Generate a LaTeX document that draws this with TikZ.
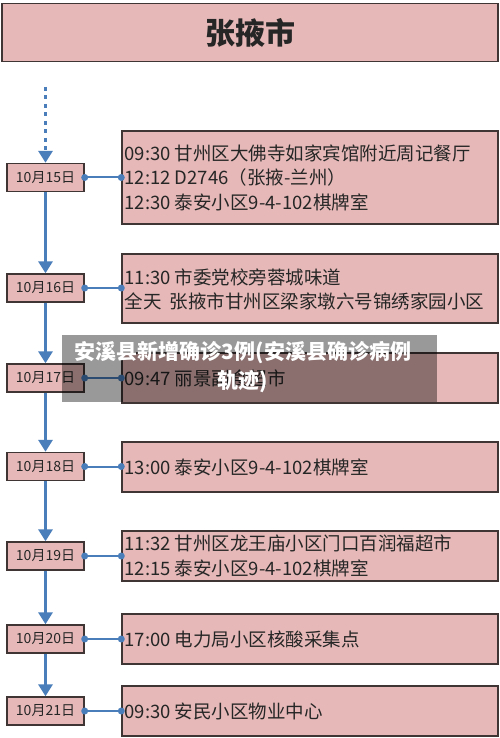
\documentclass[tikz,border=0pt]{standalone}
\usepackage{fontspec}
\setmainfont{Noto Sans CJK SC}
\usetikzlibrary{arrows.meta}
\definecolor{boxfill}{HTML}{E6B9B8}
\definecolor{boxline}{HTML}{3F3535}
\definecolor{flowblue}{HTML}{4A7EBB}
\definecolor{txt}{HTML}{262626}
\begin{document}
\begin{tikzpicture}[x=1pt,y=-1pt,
  titlebox/.style={draw=boxline,fill=boxfill,line width=1.5pt,minimum width=496pt,minimum height=58pt,inner sep=0pt,text=txt,font=\fontsize{30}{34}\selectfont\bfseries},
  datebox/.style={draw=boxline,fill=boxfill,line width=1.4pt,minimum width=77pt,minimum height=28pt,inner sep=0pt,text=txt,font=\fontsize{14}{16}\selectfont},
  infobox/.style={draw=boxline,fill=boxfill,line width=1.4pt,minimum width=376pt,inner sep=0pt},
  infotext/.style={anchor=west,align=left,inner sep=0pt,text=txt,font=\fontsize{18.5}{24.5}\selectfont},
  flow/.style={draw=flowblue,line width=3.5pt,-{Triangle[width=14pt,length=12pt]}},
  dashflow/.style={flow,dash pattern=on 4pt off 4.5pt},
  link/.style={draw=flowblue,line width=2pt},
  dot/.style={fill=flowblue}
]
\useasboundingbox (0,0) rectangle (500,738);
\fill[white] (0,0) rectangle (500,738);

\node[titlebox] (title) at (250,32.5) {张掖市};

% date boxes
\node[datebox] (d15) at (45.5,177.5) {10月15日};
\node[datebox] (d16) at (45.5,288) {10月16日};
\node[datebox] (d17) at (45.5,378) {10月17日};
\node[datebox] (d18) at (45.5,466.5) {10月18日};
\node[datebox] (d19) at (45.5,556) {10月19日};
\node[datebox] (d20) at (45.5,639) {10月20日};
\node[datebox] (d21) at (45.5,711) {10月21日};

% info boxes
\node[infobox,minimum height=93pt] (b15) at (310,177.5) {};
\node[infobox,minimum height=69pt] (b16) at (310,288.5) {};
\node[infobox,minimum height=50pt] (b17) at (310,378) {};
\node[infobox,minimum height=50pt] (b18) at (310,467) {};
\node[infobox,minimum height=50pt] (b19) at (310,556) {};
\node[infobox,minimum height=50pt] (b20) at (310,639) {};
\node[infobox,minimum height=50pt] (b21) at (310,711) {};

\node[infotext] (t15) at ([xshift=3pt]b15.west) {09:30 甘州区大佛寺如家宾馆附近周记餐厅\\12:12 D2746（张掖-兰州）\\12:30 泰安小区9-4-102棋牌室};
\node[infotext] (t16) at ([xshift=3pt,yshift=-1pt]b16.west) {11:30 市委党校旁蓉城味道\\全天\ \ 张掖市甘州区梁家墩六号锦绣家园小区};
\node[infotext] (t17) at ([xshift=3pt]b17.west) {09:47 丽景副食超市};
\node[infotext] (t18) at ([xshift=3pt]b18.west) {13:00 泰安小区9-4-102棋牌室};
\node[infotext] (t19) at ([xshift=3pt]b19.west) {11:32 甘州区龙王庙小区门口百润福超市\\12:15 泰安小区9-4-102棋牌室};
\node[infotext] (t20) at ([xshift=3pt]b20.west) {17:00 电力局小区核酸采集点};
\node[infotext] (t21) at ([xshift=3pt]b21.west) {09:30 安民小区物业中心};

% flow arrows
\coordinate (start) at (45.5,87);
\draw[dashflow] (start) -- (d15.north);
\draw[flow] (d15.south) -- (d16.north);
\draw[flow] (d16.south) -- (d17.north);
\draw[flow] (d17.south) -- (d18.north);
\draw[flow] (d18.south) -- (d19.north);
\draw[flow] (d19.south) -- (d20.north);
\draw[flow] (d20.south) -- (d21.north);

% links
\foreach \d in {15,16,17,18,19,20,21}{
  \draw[link] (d\d.east) -- (d\d.east -| b\d.west);
  \fill[dot] (d\d.east) circle (3.5pt);
  \fill[dot] (d\d.east -| b\d.west) circle (3.5pt);
}

% caption overlay
\node[fill=black,fill opacity=0.4,minimum width=375pt,minimum height=67pt,inner sep=0pt] (shade) at (249.5,368.5) {};
\node[text=white,align=center,inner sep=0pt,font=\fontsize{21}{29}\selectfont\bfseries] (caption) at (243,367.5) {安溪县新增确诊3例(安溪县确诊病例\\轨迹)};
\end{tikzpicture}
\end{document}
